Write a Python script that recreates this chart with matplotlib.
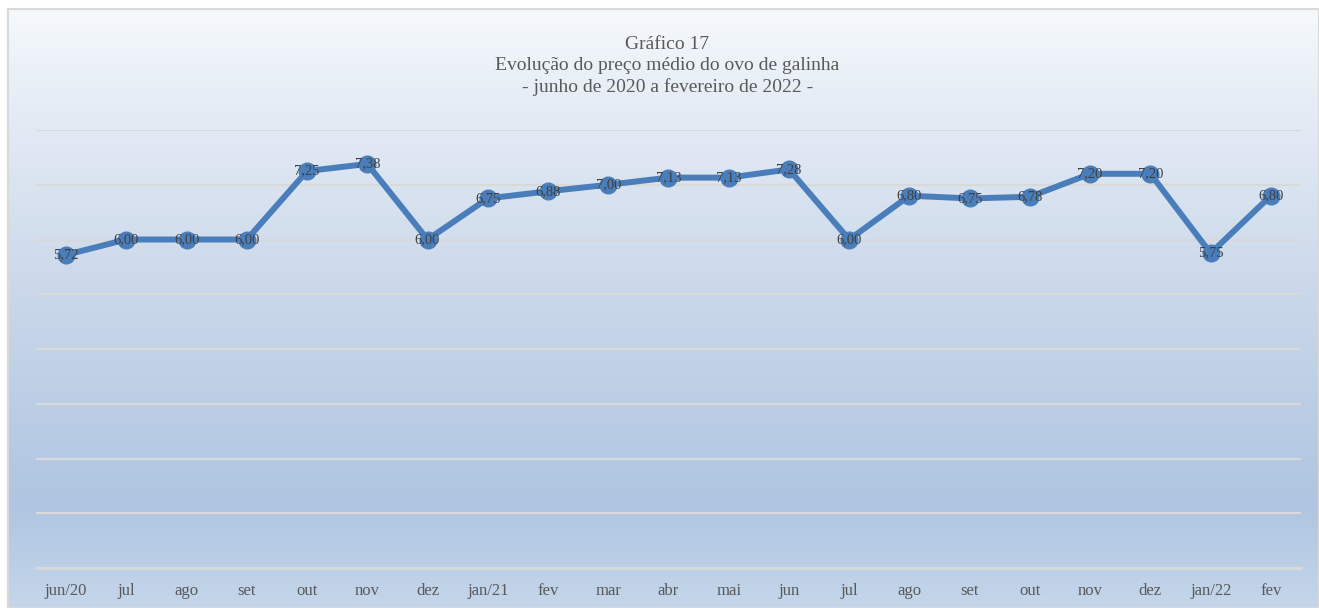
import numpy as np
import matplotlib
matplotlib.use("Agg")
from matplotlib import pyplot as plt
from matplotlib.colors import LinearSegmentedColormap

# dados do grafico
meses = ["jun/20", "jul", "ago", "set", "out", "nov", "dez", "jan/21", "fev", "mar",
         "abr", "mai", "jun", "jul", "ago", "set", "out", "nov", "dez", "jan/22", "fev"]
precos = [5.72, 6.00, 6.00, 6.00, 7.25, 7.38, 6.00, 6.75, 6.88, 7.00,
          7.13, 7.13, 7.28, 6.00, 6.80, 6.75, 6.78, 7.20, 7.20, 5.75, 6.80]
titulo = "Gráfico 17\nEvolução do preço médio do ovo de galinha\n- junho de 2020 a fevereiro de 2022 -"

plt.rcParams['font.family'] = ['Liberation Serif', 'DejaVu Serif']

fig = plt.figure(figsize=(13.19, 6.08), dpi=100)

# fundo em degrade (como no excel)
bg = fig.add_axes([8 / 1319, 0, 1 - 8 / 1319, 1 - 9 / 608], zorder=0)
cmap = LinearSegmentedColormap.from_list("fundo", [
    (0.0, "#c4d6ea"),
    (0.17, "#afc5e1"),
    (0.5, "#c8d6e9"),
    (0.85, "#e6edf6"),
    (1.0, "#f6f9fc"),
])
grad = np.linspace(0, 1, 256).reshape(-1, 1)
bg.imshow(grad, aspect="auto", cmap=cmap, origin="lower", extent=[0, 1, 0, 1])
bg.set_xlim(0, 1)
bg.set_ylim(0, 1)
bg.set_xticks([])
bg.set_yticks([])
for s in bg.spines.values():
    s.set_color("#d9d9d9")
    s.set_linewidth(1.5)

ax = fig.add_axes([36 / 1319, 1 - 568 / 608, (1301 - 36) / 1319, (568 - 130) / 608], zorder=1)
ax.patch.set_alpha(0)
x = np.arange(len(meses))
ax.plot(x, precos, color="#4a7ebb", linewidth=4.3, marker="o", markersize=12,
        markerfacecolor="#4a7ebb", markeredgecolor="#4a7ebb", zorder=3)
for xi, v in zip(x, precos):
    ax.text(xi, v, f"{v:.2f}".replace(".", ","), ha="center", va="center",
            fontsize=10.5, color="#404040", zorder=4)

ax.set_xlim(-0.5, len(meses) - 0.5)
ax.set_ylim(0, 8)
ax.set_yticks(np.arange(0, 9, 1))
ax.yaxis.grid(True, color="#d9d9d9", linewidth=1.6)
ax.axhline(0, color="#d9d9d9", linewidth=2, clip_on=False, zorder=1)
ax.set_axisbelow(True)
ax.tick_params(axis="y", left=False, labelleft=False)
ax.set_xticks(x)
ax.set_xticklabels(meses, fontsize=12, color="#595959")
ax.tick_params(axis="x", length=0, pad=11)
for s in ax.spines.values():
    s.set_visible(False)

fig.text(0.506, 1 - 66 / 608, titulo, ha="center", va="center", fontsize=14,
         color="#595959", linespacing=1.3)

fig.savefig("out.png", dpi=100)
